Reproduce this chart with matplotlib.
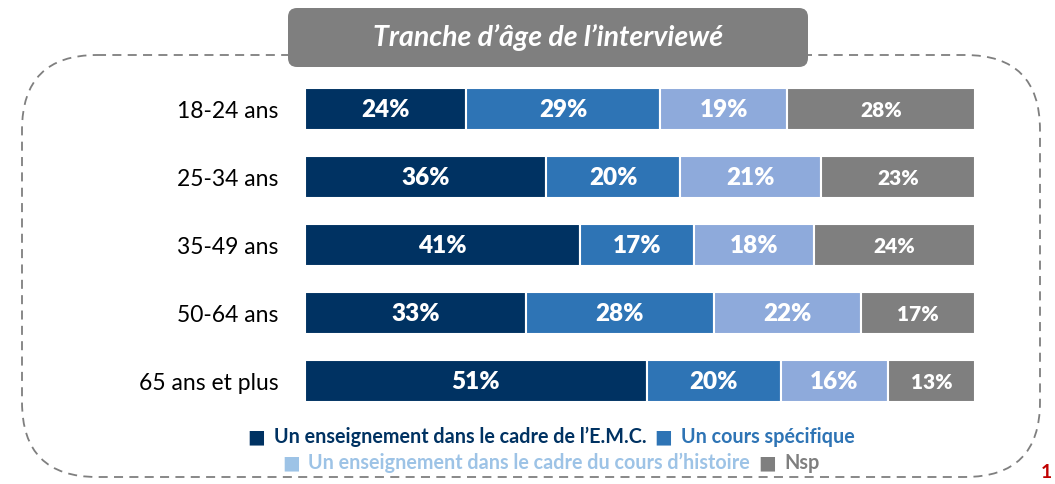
import matplotlib.pyplot as plt
from matplotlib.patches import FancyBboxPatch
from matplotlib.offsetbox import TextArea, HPacker, AnchoredOffsetbox

plt.rcParams['font.family'] = ['Lato', 'DejaVu Sans']

categories = ["18-24 ans", "25-34 ans", "35-49 ans", "50-64 ans", "65 ans et plus"]
emc = [24, 36, 41, 33, 51]
cours = [29, 20, 17, 28, 20]
histoire = [19, 21, 18, 22, 16]
nsp = [28, 23, 24, 17, 13]
series_names = ["Un enseignement dans le cadre de l\u2019E.M.C.", "Un cours sp\u00e9cifique",
                "Un enseignement dans le cadre du cours d\u2019histoire", "Nsp"]
colors = ["#003262", "#2e74b5", "#8eaadb", "#7f7f7f"]
legend_colors = ["#003262", "#2e74b5", "#9dc3e6", "#7f7f7f"]

fig = plt.figure(figsize=(10.55, 4.84), dpi=100)

# background layer in pixel coordinates for the decorative boxes
bg = fig.add_axes([0, 0, 1, 1], zorder=0)
bg.set_xlim(0, 1055)
bg.set_ylim(484, 0)
bg.axis("off")
bg.add_patch(FancyBboxPatch((22, 55), 1018, 422, boxstyle="round,pad=0,rounding_size=75",
                            fill=False, edgecolor="#7f7f7f", linestyle=(0, (5, 3.5)), linewidth=1.3))
bg.add_patch(FancyBboxPatch((288, 8), 520, 59, boxstyle="round,pad=0,rounding_size=9",
                            facecolor="#7f7f7f", edgecolor="none", zorder=3))
bg.text(548, 38, "Tranche d\u2019\u00e2ge de l\u2019interview\u00e9", color="white", fontsize=20.5,
        fontstyle="italic", fontweight="bold", ha="center", va="center", zorder=4)
bg.text(1041, 481, "1", color="#c00000", fontsize=14, fontweight="bold", ha="left", va="bottom")

ax = fig.add_axes([305 / 1055, 69 / 484, 670 / 1055, 340 / 484], zorder=1)
ax.patch.set_alpha(0)
data = [emc, cours, histoire, nsp]
y = list(range(len(categories)))
left = [0] * len(categories)
for i, vals in enumerate(data):
    bars = ax.barh(y, vals, left=left, height=0.62, color=colors[i], edgecolor="white", linewidth=1.5)
    for b, v, l in zip(bars, vals, left):
        ax.text(l + v / 2, b.get_y() + b.get_height() / 2 + 0.02, f"{v}%", color="white",
                fontsize=15 if i == 3 else 17.5, fontweight="heavy", ha="center", va="center")
    left = [a + b for a, b in zip(left, vals)]

ax.set_xlim(0, 100)
ax.set_ylim(len(categories) - 0.5, -0.5)
ax.set_yticks(y)
ax.set_yticklabels(categories, fontsize=16.5, color="black")
ax.tick_params(axis="y", length=0, pad=19)
ax.set_xticks([])
for s in ax.spines.values():
    s.set_visible(False)

# legend, two centred lines
def legend_line(idx):
    items = []
    for k in idx:
        items.append(TextArea("\u25a0", textprops=dict(color=legend_colors[k], fontsize=13.5,
                                                      family="DejaVu Sans")))
        items.append(TextArea(series_names[k], textprops=dict(color=legend_colors[k], fontsize=14.2,
                                                              fontweight="bold")))
    return HPacker(children=items, align="center", pad=0, sep=6)

for idx, yy in [((0, 1), 437), ((2, 3), 463)]:
    box = AnchoredOffsetbox(loc="center", child=legend_line(idx), frameon=False,
                            bbox_to_anchor=(551 / 1055, 1 - yy / 484),
                            bbox_transform=fig.transFigure, pad=0, borderpad=0)
    fig.add_artist(box)

fig.savefig("out.png", dpi=100)
